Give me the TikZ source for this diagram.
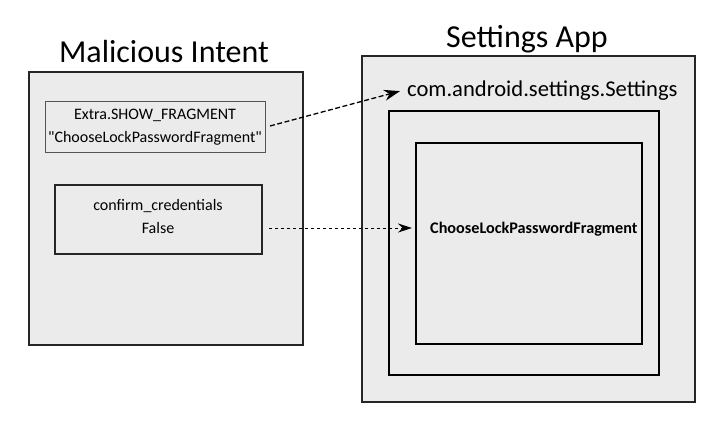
\documentclass[tikz,border=0pt]{standalone}
\usepackage{fontspec}
\setmainfont{Carlito}
\usetikzlibrary{arrows.meta}
\definecolor{boxfill}{HTML}{EBEBEB}
\definecolor{softline}{HTML}{555555}
\begin{document}
\begin{tikzpicture}[x=1pt,y=-1pt,
  panel/.style={draw=black!85,line width=1.6pt,fill=boxfill},
  framebox/.style={draw=black,line width=1.8pt},
  itembox/.style={draw=softline,line width=1pt,fill=boxfill},
  itembox2/.style={draw=black!85,line width=1.5pt,fill=boxfill},
  title/.style={font=\fontsize{32}{36}\selectfont,anchor=base},
  itemtext/.style={font=\fontsize{16}{19}\selectfont,anchor=base},
  link/.style={dash pattern=on 5pt off 2.5pt,line width=1.3pt,-{Stealth[length=16pt,width=11pt]}},
  link2/.style={dash pattern=on 3pt off 3pt,line width=1pt,-{Stealth[length=14pt,width=9pt]}}]
\useasboundingbox (0,0) rectangle (723,424);
% Malicious Intent
\node[title] (mititle) at (164,62) {Malicious Intent};
\path[panel] (29,72) rectangle (303,345);
\path[itembox] (45,101) rectangle (265,152);
\node[itemtext] (extra1) at (155,119) {Extra.SHOW\_FRAGMENT};
\node[itemtext] (extra2) at (155,142) {\textquotedbl ChooseLockPasswordFragment\textquotedbl};
\path[itembox2] (55,185) rectangle (262,254);
\node[itemtext] (cc1) at (158,210) {confirm\_credentials};
\node[itemtext] (cc2) at (158,233) {False};
\coordinate (src1) at (270,126);
\coordinate (src2) at (269,228);
% Settings App
\node[title] (sattitle) at (527,47) {Settings App};
\path[panel] (362,56) rectangle (695,402);
\node[font=\fontsize{22.6}{26}\selectfont,anchor=base west,inner sep=0pt] (settings) at (407,96) {com.android.settings.Settings};
\path[framebox] (389,111) rectangle (659,375);
\path[framebox] (416,143) rectangle (642,344);
\node[font=\fontsize{16.2}{19}\bfseries\selectfont,anchor=base west,inner sep=0pt] (frag) at (430,233) {ChooseLockPasswordFragment};
% connectors
\draw[link] (src1) -- ([xshift=-7pt,yshift=-1pt]settings.west);
\draw[link2] (src2) -- ([xshift=-18pt]frag.west |- src2);
\end{tikzpicture}
\end{document}
